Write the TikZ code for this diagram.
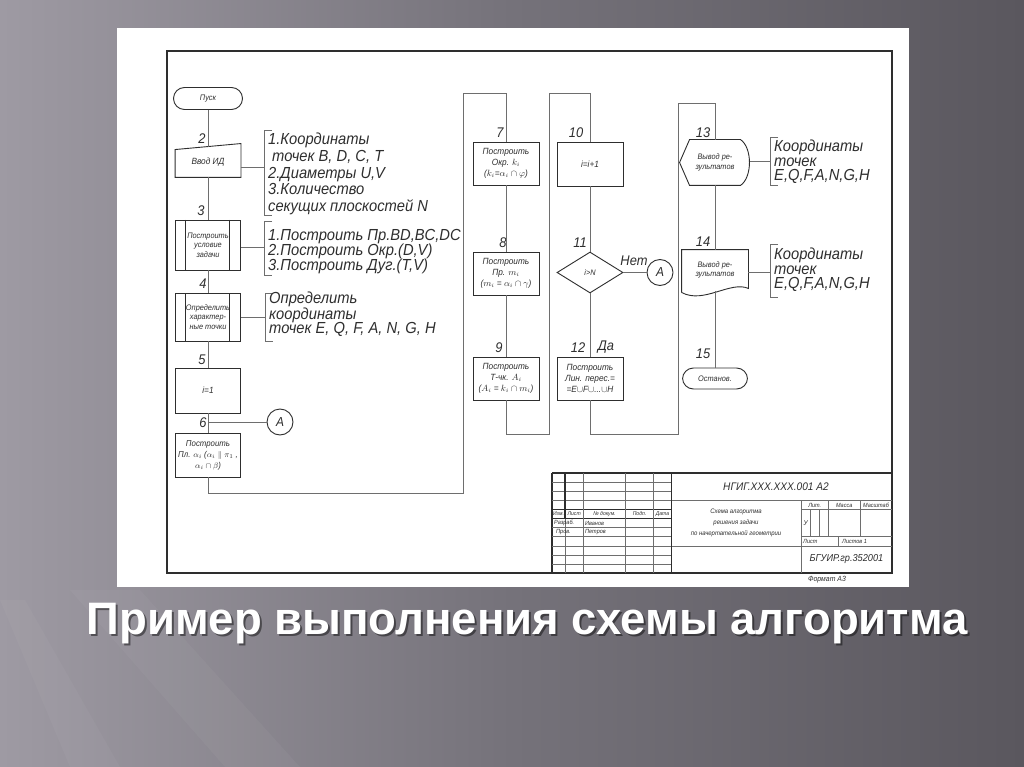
\documentclass[tikz,border=0pt]{standalone}
\usepackage{fontspec}
\setmainfont{Liberation Sans}
\newfontfamily\gost[FakeStretch=0.92]{Liberation Sans}
\usetikzlibrary{shapes.geometric,calc}
\definecolor{ink}{HTML}{2E2E2E}
\definecolor{lin}{HTML}{6E6E6E}
\definecolor{bgl}{HTML}{9E9AA3}
\definecolor{bgm}{HTML}{75727A}
\definecolor{bgr}{HTML}{5A575E}
\begin{document}
\begin{tikzpicture}[x=1pt,y=-1pt,
  box/.style={draw=ink, line width=0.9pt, inner sep=1pt, align=center, text=ink,
    font=\gost\itshape\fontsize{9}{11}\selectfont, minimum width=65pt, minimum height=44pt},
  predef/.style={box, font=\gost\itshape\fontsize{8}{9.5}\selectfont, path picture={
    \draw[ink, line width=0.9pt] ([xshift=10pt]path picture bounding box.north west) -- ([xshift=10pt]path picture bounding box.south west);
    \draw[ink, line width=0.9pt] ([xshift=-11pt]path picture bounding box.north east) -- ([xshift=-11pt]path picture bounding box.south east);}},
  term/.style={box, rounded corners=11pt, minimum height=22pt},
  shapeline/.style={draw=ink, line width=0.9pt},
  conn/.style={draw=lin, line width=0.8pt},
  circ/.style={circle, draw=ink, line width=0.9pt, minimum size=26pt, inner sep=0pt, text=ink,
    font=\gost\itshape\fontsize{13}{13}\selectfont},
  num/.style={inner sep=0pt, text=ink, font=\gost\itshape\fontsize{14}{14}\selectfont},
  note/.style={inner sep=0pt, anchor=west, align=left, text=ink, font=\gost\itshape\fontsize{16}{14.5}\selectfont},
  tb/.style={draw=lin, line width=0.6pt},
  tbk/.style={draw=ink, line width=1.1pt},
  tbt/.style={inner sep=0pt, text=ink, font=\gost\itshape\fontsize{6}{7}\selectfont, align=center}
]
\useasboundingbox (0,0) rectangle (1024,767);
% background
\shade[left color=bgl, right color=bgr, middle color=bgm] (0,0) rectangle (1024,767);
\fill[white, opacity=0.035] (70,590) -- (140,590) -- (300,767) -- (225,767) -- cycle;
\fill[white, opacity=0.03] (0,600) -- (25,600) -- (120,767) -- (70,767) -- cycle;
% white sheet
\fill[white] (117,28) rectangle (909,587);
\draw[ink, line width=1.1pt] (167,51) rectangle (892,573);

% ---------- column 1
\node[term, minimum width=69pt, font=\gost\itshape\fontsize{8}{9}\selectfont] (start) at (208,98.5) {Пуск};
\node[num] (l2) at (202,139) {2};
\node[box, draw=none, minimum height=30pt] (n2) at (208,162) {Ввод ИД};
\draw[shapeline] (n2.south west) -- ($(n2.north west)+(0,3)$) -- ($(n2.north east)+(0,-3)$) -- (n2.south east) -- cycle;
\node[num] (l3) at (201,211) {3};
\node[predef, minimum height=50pt] (n3) at (208,245) {Построить\\условие\\задачи};
\node[num] (l4) at (203,284) {4};
\node[predef, minimum height=48pt] (n4) at (208,317) {Определить\\характер-\\ные точки};
\node[num] (l5) at (202,360) {5};
\node[box, minimum height=45pt] (n5) at (208,390.5) {i=1};
\node[num] (l6) at (203,423) {6};
\node[box, minimum height=44pt, font=\gost\itshape\fontsize{8.5}{11}\selectfont] (n6) at (208,455) {Построить\\Пл. $\alpha_i$ ($\alpha_i\parallel\pi_1$ ,\\$\alpha_i\cap\beta$)};
\node[circ] (cA1) at (280,422) {A};

% ---------- column 2
\node[num] (l7) at (500,133) {7};
\node[box, minimum width=66pt, minimum height=43pt] (n7) at (506,163.5) {Построить\\Окр. $k_i$\\($k_i$=$\alpha_i\cap\varphi$)};
\node[num] (l8) at (503,243) {8};
\node[box, minimum width=66pt, minimum height=43pt] (n8) at (506,273.5) {Построить\\Пр. $m_i$\\($m_i$ = $\alpha_i\cap\gamma$)};
\node[num] (l9) at (499,348) {9};
\node[box, minimum width=66pt, minimum height=43pt] (n9) at (506,378.5) {Построить\\Т-чк. $A_i$\\($A_i$ = $k_i\cap m_i$)};

% ---------- column 3
\node[num] (l10) at (576,133) {10};
\node[box, minimum width=66pt, minimum height=44pt] (n10) at (590,164) {i=i+1};
\node[num] (l11) at (580,243) {11};
\node[diamond, draw=ink, line width=0.9pt, minimum width=66pt, minimum height=41pt, inner sep=0pt, text=ink,
  font=\gost\itshape\fontsize{8}{9}\selectfont] (n11) at (590,272.5) {i>N};
\node[num] (lno) at (634,261) {Нет};
\node[circ] (cA2) at (660,272.5) {A};
\node[num] (l12) at (578,348) {12};
\node[num] (lyes) at (606,347) {Да};
\node[box, minimum width=66pt, minimum height=43pt] (n12) at (590,378.5) {Построить\\Лин. перес.=\\=E$\cup$F$\cup$...$\cup$H};

% ---------- column 4
\node[num] (l13) at (703,133) {13};
\node[box, draw=none, minimum width=70pt, minimum height=45pt, font=\gost\itshape\fontsize{8}{9.5}\selectfont] (n13) at (715,162.5) {Вывод ре-\\зультатов};
\draw[shapeline] (n13.west) -- ($(n13.north west)+(10,0)$) -- ($(n13.north east)+(-10,0)$)
  .. controls ($(n13.north east)+(2,8)$) and ($(n13.south east)+(2,-8)$) .. ($(n13.south east)+(-10,0)$)
  -- ($(n13.south west)+(10,0)$) -- cycle;
\node[num] (l14) at (703,242) {14};
\node[box, draw=none, minimum width=66pt, minimum height=40pt, font=\gost\itshape\fontsize{8}{9.5}\selectfont] (n14) at (715,270) {Вывод ре-\\зультатов};
\draw[shapeline] ($(n14.south west)+(0,2)$) -- (n14.north west) -- (n14.north east) -- ($(n14.south east)+(0,-2)$)
  .. controls ($(n14.south east)+(-18,-10)$) and ($(n14.south west)+(22,14)$) .. ($(n14.south west)+(0,2)$);
\coordinate (n14b) at ($(n14.south)+(0,1)$);
\node[num] (l15) at (703,354) {15};
\node[term, minimum width=65pt, minimum height=21pt, font=\gost\itshape\fontsize{8}{9}\selectfont] (n15) at (715,378.5) {Останов.};

% ---------- connectors
\draw[conn] (start) -- (n2);
\draw[conn] (n2) -- (n3);
\draw[conn] (n3) -- (n4);
\draw[conn] (n4) -- (n5);
\draw[conn] (n5) -- (n6);
\coordinate (j6) at (208,422);
\draw[conn] (j6) -- (cA1);
\coordinate (b1) at (463,493);
\coordinate (b2) at (463,93);
\draw[conn] (n6.south) |- (b1) -- (b2) -| (n7.north);
\draw[conn] (n7) -- (n8);
\draw[conn] (n8) -- (n9);
\coordinate (b3) at (549,434);
\coordinate (b4) at (549,93);
\draw[conn] (n9.south) |- (b3) -- (b4) -| (n10.north);
\draw[conn] (n10) -- (n11);
\draw[conn] (n11) -- (cA2);
\draw[conn] (n11) -- (n12);
\coordinate (b5) at (678,434);
\coordinate (b6) at (678,103);
\draw[conn] (n12.south) |- (b5) -- (b6) -| (n13.north);
\draw[conn] (n13) -- (n14);
\draw[conn] (n14b) -- (n15);

% ---------- annotations
\coordinate (k1) at (264,167);
\draw[conn] (n2.east |- k1) -- (k1);
\draw[conn] (272,130) -- (264,130) -- (264,215) -- (272,215);
\node[note, font=\gost\itshape\fontsize{16}{16.8}\selectfont] (t1) at (268,174) {1.Координаты\\\hspace{4pt}точек B, D, C, T\\2.Диаметры U,V\\3.Количество\\секущих плоскостей N};
\coordinate (k2) at (264,247);
\draw[conn] (n3.east |- k2) -- (k2);
\draw[conn] (272,221) -- (264,221) -- (264,275) -- (272,275);
\node[note, font=\gost\itshape\fontsize{16}{15}\selectfont] (t2) at (268,252) {1.Построить Пр.BD,BC,DC\\2.Построить Окр.(D,V)\\3.Построить Дуг.(T,V)};
\coordinate (k3) at (265,317);
\draw[conn] (n4.east |- k3) -- (k3);
\draw[conn] (273,293) -- (265,293) -- (265,341) -- (273,341);
\node[note] (t3) at (269,314) {Определить\\координаты\\точек E, Q, F, A, N, G, H};
\coordinate (k4) at (770,161);
\draw[conn] (n13.east |- k4) -- (k4);
\draw[conn] (778,137) -- (770,137) -- (770,185) -- (778,185);
\node[note] (t4) at (774,162) {Координаты\\точек\\E,Q,F,A,N,G,H};
\coordinate (k5) at (770,272);
\draw[conn] (n14.east |- k5) -- (k5);
\draw[conn] (778,244) -- (770,244) -- (770,297) -- (778,297);
\node[note] (t5) at (774,270) {Координаты\\точек\\E,Q,F,A,N,G,H};

% ---------- title block
\draw[tbk] (552,473) -- (892,473);
\draw[tbk] (552,473) -- (552,573);
\foreach \yy in {482.1,491.2,500.3,527.6,536.7,545.8,554.9,564}
  \draw[tb] (552,\yy) -- (671.7,\yy);
\draw[tbk] (552,509.4) -- (671.7,509.4);
\draw[tbk] (552,518.5) -- (671.7,518.5);
\draw[tbk] (565,473) -- (565,518.5);
\foreach \xx in {583.4,625.7,653.3}
  \draw[tb] (\xx,473) -- (\xx,573);
\draw[tb] (565,518.5) -- (565,573);
\draw[tbk] (671.7,473) -- (671.7,573);
\draw[tb] (671.7,500.3) -- (892,500.3);
\draw[tb] (671.7,545.8) -- (892,545.8);
\draw[tb] (801,500.3) -- (801,573);
\draw[tb] (801,509.4) -- (892,509.4);
\draw[tb] (801,536.7) -- (892,536.7);
\draw[tb] (810.2,509.4) -- (810.2,536.7);
\draw[tb] (819.4,509.4) -- (819.4,536.7);
\draw[tb] (828.6,500.3) -- (828.6,536.7);
\draw[tb] (859.9,500.3) -- (859.9,536.7);
\draw[tb] (837.8,536.7) -- (837.8,545.8);

\node[tbt, font=\gost\itshape\fontsize{5.5}{6}\selectfont] (h1) at (558.5,514) {Изм.};
\node[tbt, font=\gost\itshape\fontsize{5.5}{6}\selectfont] (h2) at (574.2,514) {Лист};
\node[tbt, font=\gost\itshape\fontsize{5.5}{6}\selectfont] (h3) at (604.5,514) {№ докум.};
\node[tbt, font=\gost\itshape\fontsize{5.5}{6}\selectfont] (h4) at (639.5,514) {Подп.};
\node[tbt, font=\gost\itshape\fontsize{5.5}{6}\selectfont] (h5) at (662.5,514) {Дата};
\node[tbt, anchor=west] (r1) at (554,523) {Разраб.};
\node[tbt, anchor=west] (r2) at (585,523) {Иванов};
\node[tbt, anchor=west] (r3) at (556,532) {Пров.};
\node[tbt, anchor=west] (r4) at (585,532) {Петров};
\node[tbt, font=\gost\itshape\fontsize{11}{12}\selectfont] (des) at (776,487) {НГИГ.XXX.XXX.001 А2};
\node[tbt, font=\gost\itshape\fontsize{6.5}{11}\selectfont] (nm) at (736,523) {Схема алгоритма\\решения задачи\\по начертательной геометрии};
\node[tbt] (lit) at (814.8,505) {Лит.};
\node[tbt] (mas) at (844.2,505) {Масса};
\node[tbt] (msh) at (876,505) {Масштаб};
\node[tbt, font=\gost\itshape\fontsize{7}{8}\selectfont] (u) at (805.6,523) {У};
\node[tbt, anchor=west] (lst) at (803,541.3) {Лист};
\node[tbt, anchor=west] (lsts) at (842,541.3) {Листов 1};
\node[tbt, font=\gost\itshape\fontsize{10}{11}\selectfont] (org) at (846.5,559.5) {БГУИР.гр.352001};
\node[tbt, font=\gost\itshape\fontsize{7.5}{8}\selectfont] (fmt) at (827,580) {Формат А3};

% ---------- slide title
\node[text=black, opacity=0.45, font=\bfseries\fontsize{45.5}{45.5}\selectfont] (titsh) at (529,626) {Пример выполнения схемы алгоритма};
\node[text=white, font=\bfseries\fontsize{45.5}{45.5}\selectfont] (title) at (527,624) {Пример выполнения схемы алгоритма};
\end{tikzpicture}
\end{document}
